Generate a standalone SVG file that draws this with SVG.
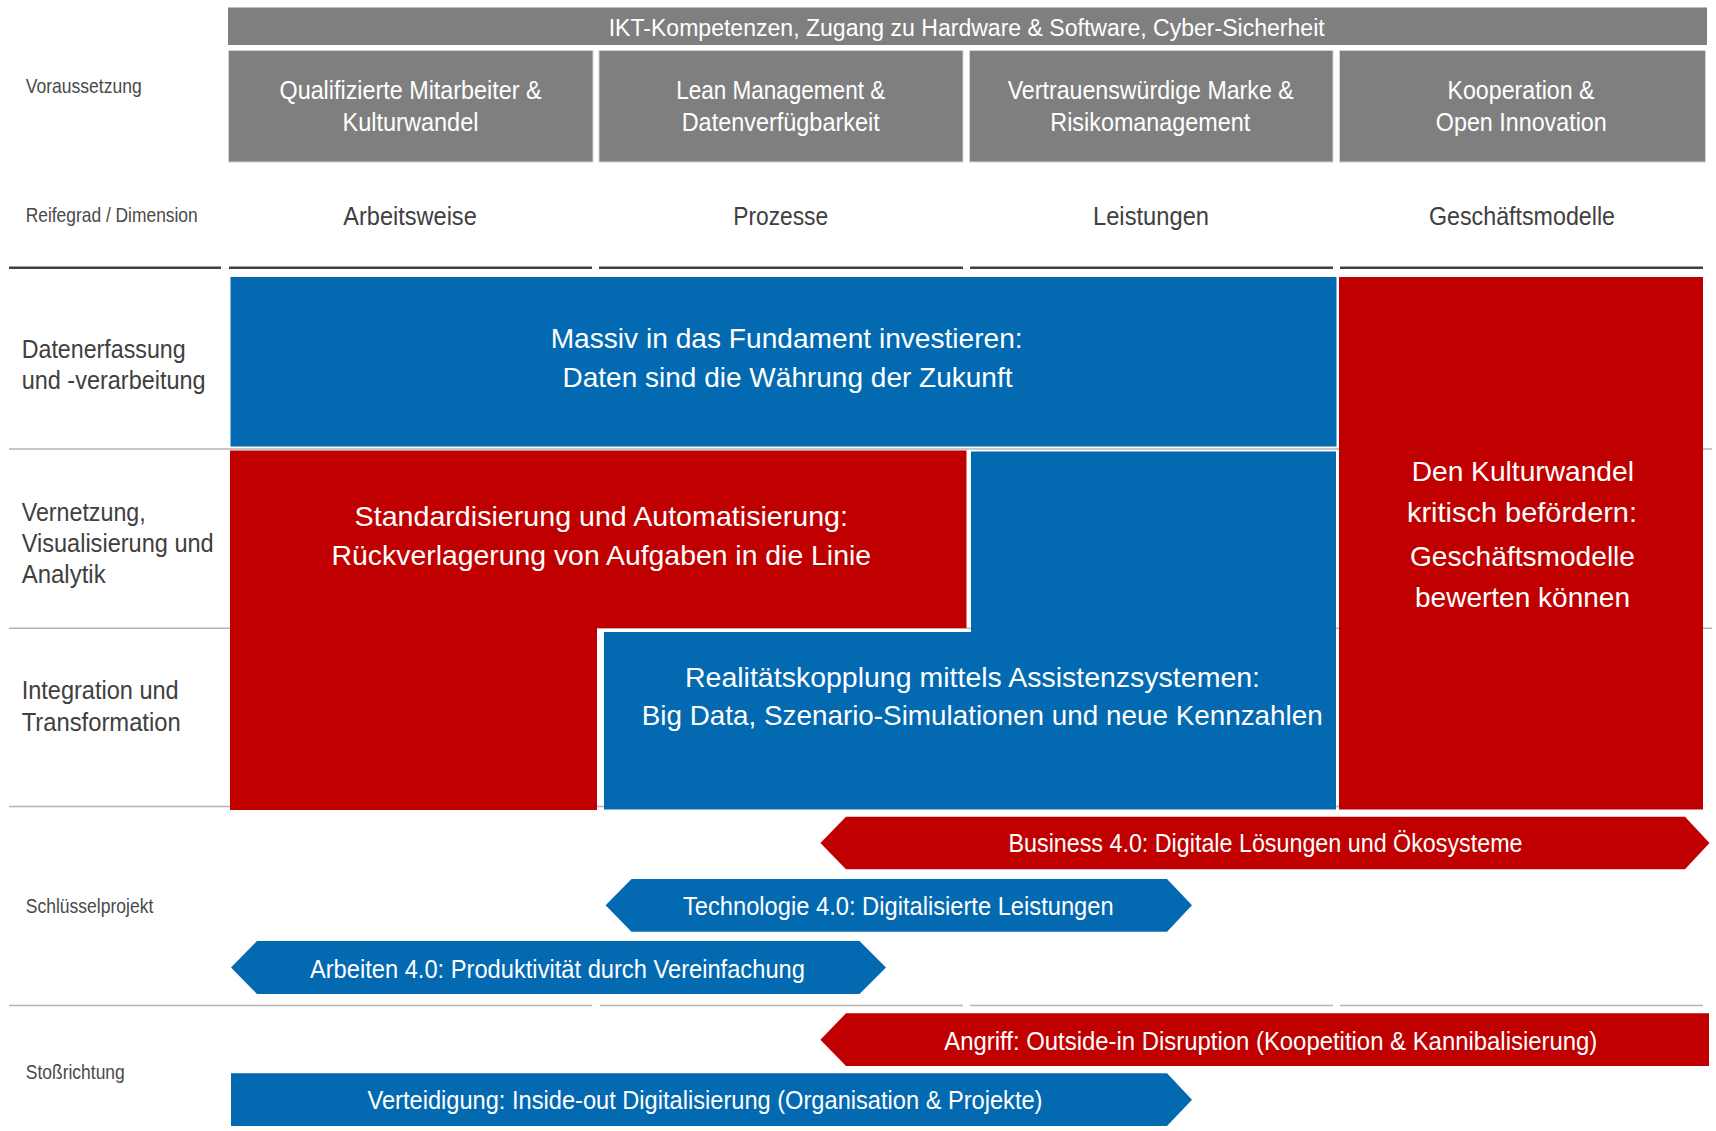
<svg xmlns="http://www.w3.org/2000/svg" width="1716" height="1131" viewBox="0 0 1716 1131">
<style>
text{font-family:"Liberation Sans Narrow","Liberation Sans",Arial,sans-serif;}
.w{fill:#ffffff;}
.d{fill:#404040;}
.l{fill:#4a4a4a;}
.c{text-anchor:middle;}
.hdr{font-size:23px;}
.box{font-size:25px;}
.col{font-size:25px;}
.sm{font-size:21px;}
.row{font-size:25px;}
.big{font-size:28px;}
.chev{font-size:25px;}
.gray{fill:#7f7f7f;stroke:#d4d4d4;stroke-width:1;}
.blue{fill:#0369b1;}
.red{fill:#c00000;}
.thick{stroke:#404040;stroke-width:2.6;fill:none;}
.thin{stroke:#b4b4b4;stroke-width:1.5;fill:none;}
</style>
<rect width="1716" height="1131" fill="#ffffff"/>

<g id="lines">
<path class="thin" d="M9 449H1712M9 628.3H1712M9 806.5H1703"/>
<path class="thin" d="M9 1005.5H592M600 1005.5H963M970 1005.5H1333M1340 1005.5H1703"/>
<path class="thick" d="M9 267.7H221M229 267.7H592M599 267.7H963M970 267.7H1333M1340 267.7H1703"/>
</g>

<g id="labels">
<text class="l sm" x="25.7" y="92.7" textLength="116" lengthAdjust="spacingAndGlyphs">Voraussetzung</text>
<text class="l sm" x="25.7" y="221.5" textLength="172" lengthAdjust="spacingAndGlyphs">Reifegrad / Dimension</text>
<text class="d row" x="21.7" y="358" textLength="164" lengthAdjust="spacingAndGlyphs">Datenerfassung</text>
<text class="d row" x="21.7" y="389" textLength="184" lengthAdjust="spacingAndGlyphs">und -verarbeitung</text>
<text class="d row" x="21.7" y="520.7" textLength="124" lengthAdjust="spacingAndGlyphs">Vernetzung,</text>
<text class="d row" x="21.7" y="552" textLength="192" lengthAdjust="spacingAndGlyphs">Visualisierung und</text>
<text class="d row" x="21.7" y="583" textLength="84" lengthAdjust="spacingAndGlyphs">Analytik</text>
<text class="d row" x="21.7" y="698.6" textLength="157" lengthAdjust="spacingAndGlyphs">Integration und</text>
<text class="d row" x="21.7" y="730.7" textLength="159" lengthAdjust="spacingAndGlyphs">Transformation</text>
<text class="l sm" x="25.8" y="913" textLength="127.5" lengthAdjust="spacingAndGlyphs">Schlüsselprojekt</text>
<text class="l sm" x="25.8" y="1079" textLength="99" lengthAdjust="spacingAndGlyphs">Stoßrichtung</text>
</g>

<g id="ikt">
<rect x="228" y="7.5" width="1479" height="37.5" fill="#7f7f7f"/>
<text class="w hdr c" x="966.7" y="36" textLength="716" lengthAdjust="spacingAndGlyphs">IKT-Kompetenzen, Zugang zu Hardware &amp; Software, Cyber-Sicherheit</text>
</g>

<g id="pre1">
<rect class="gray" x="228.5" y="50.5" width="364.5" height="111.5"/>
<text class="w box c" x="410.5" y="99" textLength="262" lengthAdjust="spacingAndGlyphs">Qualifizierte Mitarbeiter &amp;</text>
<text class="w box c" x="410.5" y="130.5" textLength="136" lengthAdjust="spacingAndGlyphs">Kulturwandel</text>
</g>
<g id="pre2">
<rect class="gray" x="599" y="50.5" width="364" height="111.5"/>
<text class="w box c" x="780.7" y="99" textLength="209" lengthAdjust="spacingAndGlyphs">Lean Management &amp;</text>
<text class="w box c" x="780.7" y="130.5" textLength="198" lengthAdjust="spacingAndGlyphs">Datenverfügbarkeit</text>
</g>
<g id="pre3">
<rect class="gray" x="969.5" y="50.5" width="363.5" height="111.5"/>
<text class="w box c" x="1150.7" y="99" textLength="286" lengthAdjust="spacingAndGlyphs">Vertrauenswürdige Marke &amp;</text>
<text class="w box c" x="1150.3" y="130.5" textLength="200" lengthAdjust="spacingAndGlyphs">Risikomanagement</text>
</g>
<g id="pre4">
<rect class="gray" x="1339.5" y="50.5" width="366" height="111.5"/>
<text class="w box c" x="1521" y="99" textLength="147" lengthAdjust="spacingAndGlyphs">Kooperation &amp;</text>
<text class="w box c" x="1521.3" y="130.5" textLength="171" lengthAdjust="spacingAndGlyphs">Open Innovation</text>
</g>

<g id="columns">
<text class="d col c" x="410" y="225" textLength="133.5" lengthAdjust="spacingAndGlyphs">Arbeitsweise</text>
<text class="d col c" x="780.7" y="225" textLength="95" lengthAdjust="spacingAndGlyphs">Prozesse</text>
<text class="d col c" x="1151" y="225" textLength="116" lengthAdjust="spacingAndGlyphs">Leistungen</text>
<text class="d col c" x="1522" y="225" textLength="186" lengthAdjust="spacingAndGlyphs">Geschäftsmodelle</text>
</g>

<g id="fundament">
<rect class="blue" x="230.5" y="277" width="1106" height="169.5"/>
<text class="w big c" x="786.7" y="347.7" textLength="472" lengthAdjust="spacingAndGlyphs">Massiv in das Fundament investieren:</text>
<text class="w big c" x="787.5" y="387.3" textLength="450" lengthAdjust="spacingAndGlyphs">Daten sind die Währung der Zukunft</text>
</g>

<g id="standardisierung">
<polygon class="red" points="230,450.5 966.5,450.5 966.5,628 597,628 597,810 230,810"/>
<text class="w big c" x="601.3" y="526" textLength="493.4" lengthAdjust="spacingAndGlyphs">Standardisierung und Automatisierung:</text>
<text class="w big c" x="601.3" y="564.5" textLength="539.4" lengthAdjust="spacingAndGlyphs">Rückverlagerung von Aufgaben in die Linie</text>
</g>

<g id="realitaet">
<polygon class="blue" points="971,451.5 1336,451.5 1336,809.5 604,809.5 604,632 971,632"/>
<text class="w big c" x="972.5" y="687" textLength="575" lengthAdjust="spacingAndGlyphs">Realitätskopplung mittels Assistenzsystemen:</text>
<text class="w big c" x="982.2" y="725" textLength="681" lengthAdjust="spacingAndGlyphs">Big Data, Szenario-Simulationen und neue Kennzahlen</text>
</g>

<g id="kulturwandel">
<rect class="red" x="1339" y="277" width="364" height="532.5"/>
<text class="w big c" x="1522.8" y="481" textLength="222.3" lengthAdjust="spacingAndGlyphs">Den Kulturwandel</text>
<text class="w big c" x="1522" y="521.7" textLength="230" lengthAdjust="spacingAndGlyphs">kritisch befördern:</text>
<text class="w big c" x="1522.5" y="565.7" textLength="225" lengthAdjust="spacingAndGlyphs">Geschäftsmodelle</text>
<text class="w big c" x="1522.5" y="606.7" textLength="215" lengthAdjust="spacingAndGlyphs">bewerten können</text>
</g>

<g id="business">
<polygon class="red" points="820.4,843 846,816.7 1685,816.7 1709.5,843 1685,869.3 846,869.3"/>
<text class="w chev c" x="1265.5" y="852" textLength="514" lengthAdjust="spacingAndGlyphs">Business 4.0: Digitale Lösungen und Ökosysteme</text>
</g>
<g id="technologie">
<polygon class="blue" points="605.6,905.3 631.5,879 1167,879 1192,905.3 1167,931.7 631.5,931.7"/>
<text class="w chev c" x="898.3" y="915" textLength="430.7" lengthAdjust="spacingAndGlyphs">Technologie 4.0: Digitalisierte Leistungen</text>
</g>
<g id="arbeiten">
<polygon class="blue" points="231,967.5 257,941 859.5,941 886,967.5 859.5,994 257,994"/>
<text class="w chev c" x="557.4" y="978" textLength="495" lengthAdjust="spacingAndGlyphs">Arbeiten 4.0: Produktivität durch Vereinfachung</text>
</g>
<g id="angriff">
<polygon class="red" points="820.4,1039.7 846,1013.3 1709,1013.3 1709,1066 846,1066"/>
<text class="w chev c" x="1270.8" y="1049.5" textLength="653" lengthAdjust="spacingAndGlyphs">Angriff: Outside-in Disruption (Koopetition &amp; Kannibalisierung)</text>
</g>
<g id="verteidigung">
<polygon class="blue" points="231,1073.3 1167,1073.3 1192,1099.7 1167,1126 231,1126"/>
<text class="w chev c" x="705" y="1109" textLength="675" lengthAdjust="spacingAndGlyphs">Verteidigung: Inside-out Digitalisierung (Organisation &amp; Projekte)</text>
</g>
</svg>
